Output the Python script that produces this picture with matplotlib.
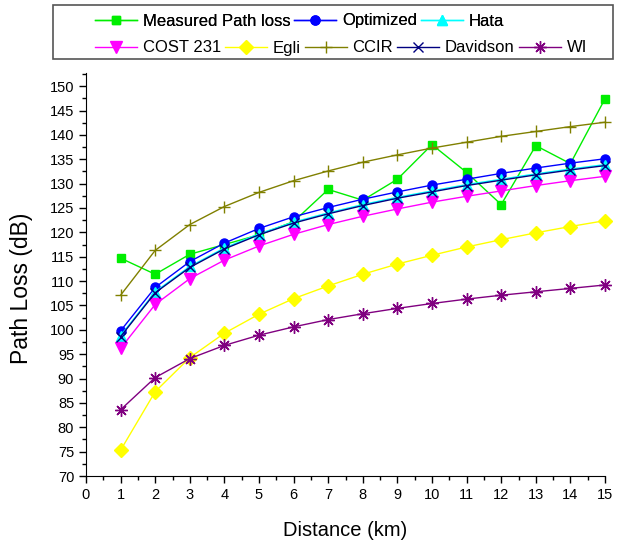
import matplotlib
matplotlib.use("Agg")
import matplotlib.pyplot as plt
from matplotlib.patches import Rectangle
from matplotlib.ticker import MultipleLocator

plt.rcParams['font.family'] = ['Liberation Sans', 'DejaVu Sans']

distance = list(range(1, 16))
measured = [114.7, 111.4, 115.5, 117.5, 119.5, 122.2, 128.8, 126.6, 130.9, 138.0, 132.3, 125.7, 137.8, 134.1, 147.4]
optimized = [99.8, 108.7, 114.0, 117.8, 120.8, 123.2, 125.1, 126.8, 128.3, 129.7, 130.9, 132.1, 133.2, 134.2, 135.1]
hata = [98.8, 107.8, 113.0, 116.8, 119.7, 122.1, 124.0, 125.7, 127.2, 128.5, 129.8, 130.9, 132.0, 133.0, 133.9]
cost231 = [96.2, 105.2, 110.5, 114.3, 117.2, 119.6, 121.6, 123.3, 124.8, 126.2, 127.4, 128.5, 129.6, 130.6, 131.5]
egli = [75.3, 87.3, 94.3, 99.3, 103.2, 106.4, 109.0, 111.4, 113.5, 115.3, 117.0, 118.5, 119.9, 121.2, 122.4]
ccir = [107.1, 116.3, 121.6, 125.3, 128.2, 130.6, 132.6, 134.4, 135.9, 137.3, 138.5, 139.7, 140.7, 141.7, 142.6]
davidson = [98.6, 107.6, 112.8, 116.6, 119.5, 121.9, 123.8, 125.5, 127.0, 128.3, 129.6, 130.7, 131.8, 132.8, 133.7]
wi = [83.6, 90.2, 94.1, 96.8, 98.9, 100.6, 102.1, 103.3, 104.4, 105.4, 106.3, 107.1, 107.8, 108.5, 109.2]

fig = plt.figure(figsize=(6.17, 5.49), dpi=100)
ax = fig.add_axes([86/617, 1-476/549, (605-86)/617, (476-73)/549])

series = [
    ("Measured Path loss", measured, '#00ee00', 's', 6, 1.0),
    ("Optimized", optimized, '#0000ff', 'o', 6.5, 1.0),
    ("Hata", hata, '#00ffff', '^', 7, 1.0),
    ("COST 231", cost231, '#ff00ff', 'v', 8, 1.0),
    ("Egli", egli, '#ffff00', 'D', 7, 1.0),
    ("CCIR", ccir, '#808000', '+', 9, 1.0),
    ("Davidson", davidson, '#000080', 'x', 7, 1.0),
    ("WI", wi, '#800080', (8, 2, 0), 9, 1.0),
]
handles = []
for name, vals, col, mk, ms, lw in series:
    h, = ax.plot(distance, vals, color=col, marker=mk, markersize=ms, lw=lw,
                 markeredgecolor=col, markerfacecolor=col, markeredgewidth=1.0,
                 label=name, clip_on=False)
    handles.append(h)

ax.set_xlim(0, 15)
ax.set_ylim(70, 152.7)
ax.xaxis.set_major_locator(MultipleLocator(1))
ax.xaxis.set_minor_locator(MultipleLocator(0.5))
ax.yaxis.set_major_locator(MultipleLocator(5))
ax.yaxis.set_minor_locator(MultipleLocator(2.5))
ax.spines['top'].set_visible(False)
ax.spines['right'].set_visible(False)
ax.tick_params(which='major', direction='out', length=5, width=1, labelsize=10.5)
ax.tick_params(which='minor', direction='out', length=3, width=1)
ax.set_xlabel("Distance (km)", fontsize=14.5)
ax.xaxis.set_label_coords(0.5, -(530-476)/(476-73), transform=ax.transAxes)
ax.set_ylabel("Path Loss (dB)", fontsize=16.5)
ax.yaxis.set_label_coords(-(86-22)/(605-86), (476-288)/(476-73), transform=ax.transAxes)
ax.xaxis.label.set_va('center')
ax.yaxis.label.set_va('center')

fig.patches.append(Rectangle((53/617, 1-59/549), 560/617, 54/549, transform=fig.transFigure,
                             fill=False, edgecolor='#555555', lw=1.2))
kw = dict(frameon=False, fontsize=12, handlelength=2.5, handletextpad=0.36,
          columnspacing=0.25, borderaxespad=0, borderpad=0)
leg1 = fig.legend(handles[:3], [s[0] for s in series[:3]], loc='center left',
                  bbox_to_anchor=(95/617, 1-21/549), ncol=3, **kw)
leg2 = fig.legend(handles[3:], [s[0] for s in series[3:]], loc='center left',
                  bbox_to_anchor=(95/617, 1-48/549), ncol=5, **kw)
fig.add_artist(leg1)

fig.savefig("out.png", dpi=100)
